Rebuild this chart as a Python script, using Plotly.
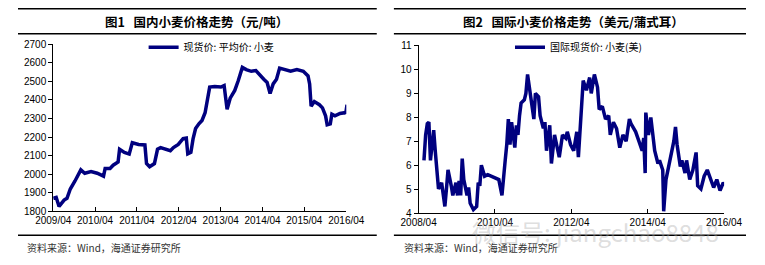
import plotly.graph_objects as go

# ---------------- data ----------------
dom_dates = ["2009-04-01","2009-04-27","2009-05-22","2009-07-05","2009-07-30","2009-08-28","2009-10-08",
    "2009-11-06","2009-11-28","2010-01-01","2010-02-25","2010-04-20","2010-06-14","2010-06-28","2010-08-10",
    "2010-09-06","2010-10-19","2010-11-01","2010-12-13","2011-01-24","2011-02-20","2011-04-16","2011-06-10",
    "2011-06-24","2011-07-21","2011-09-01","2011-09-28","2011-10-25","2011-12-05","2012-01-18","2012-02-14",
    "2012-03-27","2012-05-08","2012-06-05","2012-06-18","2012-07-15","2012-08-03","2012-08-25","2012-09-23",
    "2012-10-20","2012-11-16","2012-11-29","2012-12-26","2013-02-08","2013-04-03","2013-05-01","2013-05-14",
    "2013-05-27","2013-06-23","2013-08-02","2013-09-01","2013-09-15","2013-10-07","2013-11-10","2013-12-24",
    "2014-02-02","2014-03-01","2014-04-12","2014-05-11","2014-05-23","2014-06-06","2014-07-03","2014-08-01",
    "2014-08-28","2014-10-08","2014-12-02","2015-01-26","2015-03-23","2015-05-03","2015-05-17","2015-05-30",
    "2015-06-27","2015-08-10","2015-09-06","2015-10-03","2015-10-17","2015-11-13","2015-11-27","2015-12-24",
    "2016-02-06","2016-03-19","2016-03-27","2016-04-07"]
dom_price = [1870,1875,1826,1860,1870,1920,1963,
    1997,2023,2005,2014,2005,1989,2031,2031,
    2048,2065,2134,2117,2108,2169,2160,2157,
    2057,2040,2057,2134,2143,2134,2126,2143,
    2160,2191,2194,2109,2117,2190,2246,2271,
    2289,2331,2383,2469,2472,2469,2477,2400,
    2349,2409,2451,2503,2537,2575,2563,2554,
    2558,2537,2511,2494,2469,2434,2486,2511,
    2571,2563,2554,2563,2554,2529,2486,2366,
    2391,2374,2357,2314,2266,2271,2323,2314,
    2327,2331,2327,2374]

intl_dates = ["2008-05-22","2008-06-07","2008-06-23","2008-07-08","2008-07-23","2008-08-07","2008-08-23",
    "2008-09-07","2008-09-23","2008-10-08","2008-11-07","2008-11-23","2008-12-08","2008-12-23","2009-01-07",
    "2009-02-07","2009-02-22","2009-03-24","2009-04-08","2009-04-23","2009-05-08","2009-05-23","2009-06-07",
    "2009-07-08","2009-07-23","2009-08-07","2009-09-07","2009-10-08","2009-10-23","2009-11-07","2009-11-22",
    "2009-12-23","2010-01-22","2010-05-08","2010-05-23","2010-06-07","2010-07-08","2010-07-23","2010-08-07",
    "2010-08-23","2010-09-07","2010-10-08","2010-10-23","2010-11-07","2010-11-22","2010-12-07","2011-01-07",
    "2011-01-22","2011-02-07","2011-03-08","2011-04-08","2011-04-23","2011-05-23","2011-06-07","2011-07-08",
    "2011-07-23","2011-08-07","2011-09-07","2011-09-23","2011-10-23","2011-11-22","2011-12-07","2012-01-07",
    "2012-02-07","2012-02-22","2012-03-24","2012-04-23","2012-05-23","2012-06-07","2012-07-08","2012-07-23",
    "2012-08-23","2012-09-23","2012-10-08","2012-11-07","2012-12-07","2012-12-23","2013-01-22","2013-02-22",
    "2013-03-24","2013-04-08","2013-05-08","2013-06-07","2013-07-08","2013-08-07","2013-09-07","2013-10-08",
    "2013-10-23","2013-12-07","2014-01-07","2014-02-07","2014-02-22","2014-03-08","2014-03-14","2014-04-08",
    "2014-05-01","2014-05-23","2014-06-07","2014-07-08","2014-07-23","2014-08-23","2014-09-01","2014-09-23",
    "2014-10-23","2014-11-07","2014-12-07","2014-12-23","2015-01-07","2015-02-07","2015-02-22","2015-03-24",
    "2015-04-08","2015-05-08","2015-06-07","2015-07-08","2015-07-23","2015-08-23","2015-09-23","2015-10-23",
    "2015-11-22","2015-12-23","2016-01-22","2016-02-22","2016-03-24","2016-04-08"]
intl_price = [6.20,7.26,7.73,7.79,6.20,6.86,7.46,
    6.59,5.94,5.01,5.27,4.61,4.28,5.01,5.80,
    5.14,4.74,5.27,4.74,5.34,4.74,6.27,5.40,
    4.74,5.07,4.41,4.15,4.28,5.27,5.14,6.00,
    5.54,5.60,5.40,5.07,4.74,6.20,6.86,7.92,
    6.86,7.79,6.73,7.66,7.26,8.06,8.59,8.72,
    8.99,9.78,8.85,7.92,8.99,8.85,8.06,7.53,
    7.79,6.60,7.66,6.07,7.26,6.60,6.33,7.26,
    7.13,7.39,6.86,6.60,7.39,6.33,8.59,9.52,
    9.12,9.65,8.99,9.78,9.25,8.32,8.45,7.92,
    8.06,7.26,7.79,7.53,6.73,7.26,7.00,7.92,
    7.73,7.39,7.00,6.60,7.13,5.67,8.19,7.26,
    7.99,7.26,6.60,6.07,6.20,5.80,4.08,5.40,
    6.07,6.33,7.00,7.59,6.86,5.94,6.20,5.67,
    6.20,5.40,5.80,6.53,5.14,5.01,5.54,5.80,
    5.40,5.07,5.40,4.94,5.27,5.16]

dom_tickvals = ["2009-04-01","2010-04-01","2011-04-01","2012-04-01","2013-04-01","2014-04-01","2015-04-01","2016-04-01"]
dom_ticktext = ["2009/04","2010/04","2011/04","2012/04","2013/04","2014/04","2015/04","2016/04"]
intl_tickvals = ["2008-04-01","2010-04-01","2012-04-01","2014-04-01","2016-04-01"]
intl_ticktext = ["2008/04","2010/04","2012/04","2014/04","2016/04"]

title1 = "图1   国内小麦价格走势（元/吨）"
title2 = "图2   国际小麦价格走势（美元/蒲式耳）"
source = "资料来源：Wind，海通证券研究所"
name1 = "现货价: 平均价: 小麦"
name2 = "国际现货价: 小麦(美)"

# ---------------- figure ----------------
W, H = 765, 265
NAVY = "#00007F"
CJK = "Noto Sans CJK SC"
TICKFONT = dict(family="Liberation Sans, Arial", size=10, color="#000000")

fig = go.Figure()
fig.add_trace(go.Scatter(x=dom_dates, y=dom_price, mode="lines", name=name1,
                         line=dict(color=NAVY, width=3.5), xaxis="x", yaxis="y", legend="legend"))
fig.add_trace(go.Scatter(x=intl_dates, y=intl_price, mode="lines", name=name2,
                         line=dict(color=NAVY, width=3.5), xaxis="x2", yaxis="y2", legend="legend2"))

def px(v): return v / W
def py(v): return 1 - v / H

axis_common = dict(showgrid=False, zeroline=False, showline=True, linecolor="#000000", linewidth=1,
                   tickfont=TICKFONT, tickcolor="#000000")

fig.update_layout(
    width=W, height=H, margin=dict(l=0, r=0, t=0, b=0),
    paper_bgcolor="white", plot_bgcolor="white", showlegend=True,
    xaxis=dict(domain=[px(37), px(345)], type="date", anchor="y",
               range=["2009-04-01", "2016-04-01"], tickvals=dom_tickvals, ticktext=dom_ticktext,
               ticks="inside", ticklen=4, **axis_common),
    yaxis=dict(domain=[py(215), py(40)], anchor="x", range=[1800, 2700], dtick=100,
               ticks="outside", ticklen=4, **axis_common),
    xaxis2=dict(domain=[px(421), px(742)], type="date", anchor="y2",
                range=["2008-04-01", "2016-04-01"], tickvals=intl_tickvals, ticktext=intl_ticktext,
                ticks="inside", ticklen=4, **axis_common),
    yaxis2=dict(domain=[py(217), py(41)], anchor="x2", range=[4, 11], dtick=1,
                ticks="outside", ticklen=4, **axis_common),
    legend=dict(x=px(132), y=py(28), xanchor="left", yanchor="top", bgcolor="rgba(0,0,0,0)",
                font=dict(family=CJK, size=10, color="#000000"), itemwidth=30, tracegroupgap=0),
    legend2=dict(x=px(517), y=py(28), xanchor="left", yanchor="top", bgcolor="rgba(0,0,0,0)",
                 font=dict(family=CJK, size=10, color="#000000"), itemwidth=30, tracegroupgap=0),
)

# header / footer rules
for x0, x1 in [(0, 377), (395, 765)]:
    for yv, wv in [(3, 1.5), (29, 1.5), (240, 1.5)]:
        fig.add_shape(type="line", xref="paper", yref="paper", x0=px(x0), x1=px(x1),
                      y0=py(yv), y1=py(yv), line=dict(color="#000000", width=wv))

fig.add_annotation(text="<b>" + title1 + "</b>", xref="paper", yref="paper", x=px(188), y=py(16),
                   xanchor="center", yanchor="middle", showarrow=False,
                   font=dict(family=CJK, size=12.5, color="#000000"))
fig.add_annotation(text="<b>" + title2 + "</b>", xref="paper", yref="paper", x=px(584), y=py(16),
                   xanchor="center", yanchor="middle", showarrow=False,
                   font=dict(family=CJK, size=12.5, color="#000000"))
for xs in [7, 403]:
    fig.add_annotation(text=source, xref="paper", yref="paper", x=px(xs), y=py(253),
                       xanchor="left", yanchor="middle", showarrow=False,
                       font=dict(family=CJK, size=10, color="#333333"))

# watermark
fig.add_annotation(text="微信号: jiangchao8848", xref="paper", yref="paper", x=px(475), y=py(236),
                   xanchor="left", yanchor="middle", showarrow=False,
                   font=dict(family=CJK, size=24, color="rgba(170,170,170,0.4)"))

fig.write_html("out.html")
